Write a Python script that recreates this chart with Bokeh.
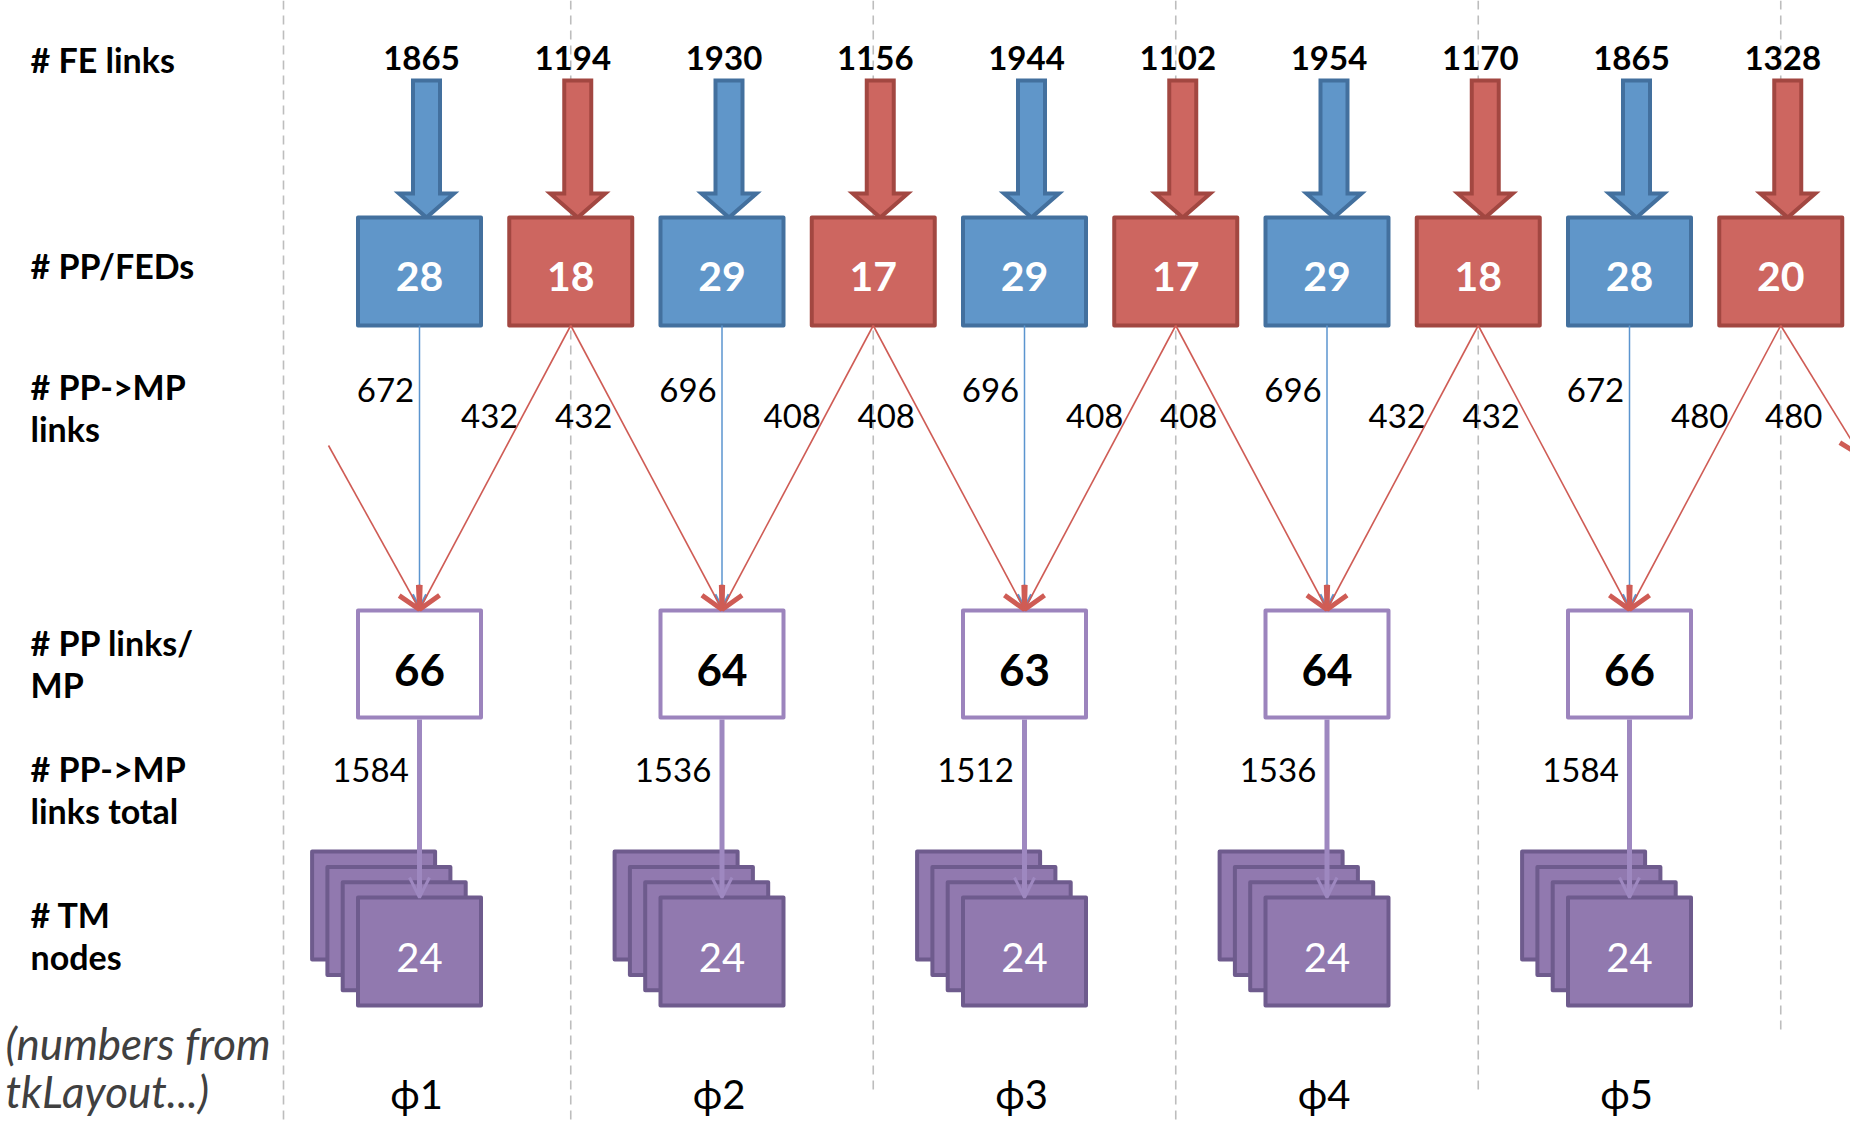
from bokeh.plotting import figure
from bokeh.models import Range1d, ColumnDataSource, Arrow, OpenHead
from bokeh.core.properties import value
from bokeh.embed import file_html
from bokeh.resources import INLINE

# ---------------- data ----------------
row_labels = ["# FE links", "# PP/FEDs", "# PP->MP\nlinks", "# PP links/\nMP",
              "# PP->MP\nlinks total", "# TM\nnodes"]
fe_links = [1865, 1194, 1930, 1156, 1944, 1102, 1954, 1170, 1865, 1328]
pp_feds = [28, 18, 29, 17, 29, 17, 29, 18, 28, 20]
pp_group = ["blue", "red", "blue", "red", "blue", "red", "blue", "red", "blue", "red"]
pp_mp_direct = [672, 696, 696, 696, 672]          # blue PP -> MP of same sector
pp_mp_cross_left = [432, 408, 408, 432, 480]      # red PP -> MP of same sector
pp_mp_cross_right = [432, 408, 408, 432, 480]     # red PP -> MP of next sector
pp_links_per_mp = [66, 64, 63, 64, 66]
pp_mp_links_total = [1584, 1536, 1512, 1536, 1584]
tm_nodes = [24, 24, 24, 24, 24]
phi_sectors = ["\u03d51", "\u03d52", "\u03d53", "\u03d54", "\u03d55"]
note_text = ["(numbers from", "tkLayout...)"]

# ---------------- layout / style ----------------
FONT = value("Lato")
W, H = 1850, 1122
X0, PITCH = 419.0, 302.5
HALF = PITCH / 2
n_sec = len(pp_links_per_mp)
bx = [X0 + PITCH * i for i in range(n_sec)]
rx = [b + HALF for b in bx]
pp_x = [X0 + HALF * k for k in range(len(pp_feds))]

BOX_W, BOX_H = 123, 108
PP_TOP, PP_BOT = 217, 325
MP_TOP, MP_BOT = 610, 717
TM_TOP, TM_BOT = 897, 1005
TM_STEP = 15.3

FILL = {"blue": "#6096c9", "red": "#cd6660"}
EDGE = {"blue": "#43709e", "red": "#a24741"}
BLUE_LINE = "#5b95cf"
RED_LINE = "#cf5c55"
MP_EDGE = "#9c84bd"
TM_FILL = "#9179af"
TM_EDGE = "#6e5b8d"
PURPLE_ARROW = "#9e88c0"
DASH = "#bdbdbd"

p = figure(width=W, height=H, x_range=Range1d(0, W), y_range=Range1d(H, 0),
           output_backend="svg", toolbar_location=None, x_axis_type=None, y_axis_type=None,
           min_border=0)
p.grid.visible = False
p.outline_line_color = None
p.background_fill_color = "white"
p.border_fill_color = "white"

# dashed separators
dash_x = [283] + rx
dash_bottom = [H, H, 1092, H, 1092, 1033]
p.segment(x0=dash_x, y0=[0] * len(dash_x), x1=dash_x, y1=dash_bottom,
          line_color=DASH, line_width=1.6, line_dash="9 6")

# FE link block arrows
AX_OFF = 7
xs, ys = [], []
for x in pp_x:
    c = x + AX_OFF
    xs.append([c - 13.5, c + 13.5, c + 13.5, c + 27.5, c, c - 27.5, c - 13.5])
    ys.append([80, 80, 193, 193, PP_TOP, 193, 193])
p.patches(xs, ys, fill_color=[FILL[g] for g in pp_group], line_color=[EDGE[g] for g in pp_group],
          line_width=4, line_join="miter")
p.text(x=[x + AX_OFF - 5 for x in pp_x], y=[57] * len(pp_x), text=[str(v) for v in fe_links],
       text_align="center", text_baseline="middle", text_font=FONT, text_font_style="bold",
       text_font_size="33px", text_color="black")

# PP/FED boxes
p.rect(x=pp_x, y=[(PP_TOP + PP_BOT) / 2] * len(pp_x), width=BOX_W, height=BOX_H,
       fill_color=[FILL[g] for g in pp_group], line_color=[EDGE[g] for g in pp_group],
       line_width=4, line_join="round")
p.text(x=pp_x, y=[276] * len(pp_x), text=[str(v) for v in pp_feds], text_align="center",
       text_baseline="middle", text_font=FONT, text_font_style="bold", text_font_size="41px",
       text_color="white")

# PP -> MP links: blue direct
blue_src = ColumnDataSource(dict(x0=bx, y0=[PP_BOT] * n_sec, x1=bx, y1=[MP_TOP - 2] * n_sec))
p.add_layout(Arrow(end=OpenHead(size=14, line_color=BLUE_LINE, line_width=3),
                   x_start="x0", y_start="y0", x_end="x1", y_end="y1", source=blue_src,
                   line_color=BLUE_LINE, line_width=1.5))

# red cross links
r_x0, r_y0, r_x1, r_y1 = [], [], [], []
for i in range(n_sec):
    r_x0.append(rx[i]); r_y0.append(PP_BOT); r_x1.append(bx[i]); r_y1.append(MP_TOP - 1)
    if i + 1 < n_sec:
        r_x0.append(rx[i]); r_y0.append(PP_BOT); r_x1.append(bx[i + 1]); r_y1.append(MP_TOP - 1)
# wrap-around links (from previous / into next sector, leaving the picture)
r_x0.append(bx[0] - 91); r_y0.append(445); r_x1.append(bx[0]); r_y1.append(MP_TOP - 1)
r_x0.append(rx[-1]); r_y0.append(PP_BOT); r_x1.append(rx[-1] + 80); r_y1.append(455)
red_src = ColumnDataSource(dict(x0=r_x0, y0=r_y0, x1=r_x1, y1=r_y1))
p.add_layout(Arrow(end=OpenHead(size=22, line_color=RED_LINE, line_width=5),
                   x_start="x0", y_start="y0", x_end="x1", y_end="y1", source=red_src,
                   line_color=RED_LINE, line_width=1.6))

# link labels
LINK_FS = "33px"
p.text(x=[b - 34 for b in bx], y=[389] * n_sec, text=[str(v) for v in pp_mp_direct],
       text_align="center", text_baseline="middle", text_font=FONT, text_font_size=LINK_FS,
       text_color="black")
p.text(x=[r - 81 for r in rx], y=[415] * n_sec, text=[str(v) for v in pp_mp_cross_left],
       text_align="center", text_baseline="middle", text_font=FONT, text_font_size=LINK_FS,
       text_color="black")
p.text(x=[r + 13 for r in rx], y=[415] * n_sec, text=[str(v) for v in pp_mp_cross_right],
       text_align="center", text_baseline="middle", text_font=FONT, text_font_size=LINK_FS,
       text_color="black")

# MP boxes
p.rect(x=bx, y=[(MP_TOP + MP_BOT) / 2] * n_sec, width=BOX_W, height=MP_BOT - MP_TOP,
       fill_color="white", line_color=MP_EDGE, line_width=4, line_join="round")
p.text(x=bx, y=[669] * n_sec, text=[str(v) for v in pp_links_per_mp], text_align="center",
       text_baseline="middle", text_font=FONT, text_font_style="bold", text_font_size="44px",
       text_color="black")

# TM stacks
for k in (3, 2, 1, 0):
    p.rect(x=[b - TM_STEP * k for b in bx], y=[(TM_TOP + TM_BOT) / 2 - TM_STEP * k] * n_sec,
           width=BOX_W, height=TM_BOT - TM_TOP, fill_color=TM_FILL, line_color=TM_EDGE,
           line_width=4, line_join="round")
p.text(x=bx, y=[957] * n_sec, text=[str(v) for v in tm_nodes], text_align="center",
       text_baseline="middle", text_font=FONT, text_font_size="40px", text_color="white")

# MP -> TM arrows and totals
mp_src = ColumnDataSource(dict(x0=bx, y0=[MP_BOT + 2] * n_sec, x1=bx, y1=[TM_TOP] * n_sec))
p.add_layout(Arrow(end=OpenHead(size=20, line_color=PURPLE_ARROW, line_width=3),
                   x_start="x0", y_start="y0", x_end="x1", y_end="y1", source=mp_src,
                   line_color=PURPLE_ARROW, line_width=5))
p.text(x=[b - 49 for b in bx], y=[769] * n_sec, text=[str(v) for v in pp_mp_links_total],
       text_align="center", text_baseline="middle", text_font=FONT, text_font_size="33px",
       text_color="black")

# sector labels
p.text(x=[b - 3 for b in bx], y=[1093] * n_sec, text=phi_sectors, text_align="center",
       text_baseline="middle", text_font=FONT, text_font_size="40px", text_color="black")

# row labels
row_y = [59, 265, 386, 642, 768, 914]
LINE_GAP = 41.5
lx, ly, lt = [], [], []
for lab, y in zip(row_labels, row_y):
    for j, line in enumerate(lab.split("\n")):
        lx.append(30); ly.append(y + LINE_GAP * j); lt.append(line)
p.text(x=lx, y=ly, text=lt, text_align="left", text_baseline="middle", text_font=FONT,
       text_font_style="bold", text_font_size="34px", text_color="black")

# note
p.text(x=[5] * len(note_text), y=[1042 + 48 * j for j in range(len(note_text))], text=note_text,
       text_align="left", text_baseline="middle", text_font=FONT, text_font_style="italic",
       text_font_size="44px", text_color="#404040")

open("out.html", "w").write(file_html(p, INLINE))
